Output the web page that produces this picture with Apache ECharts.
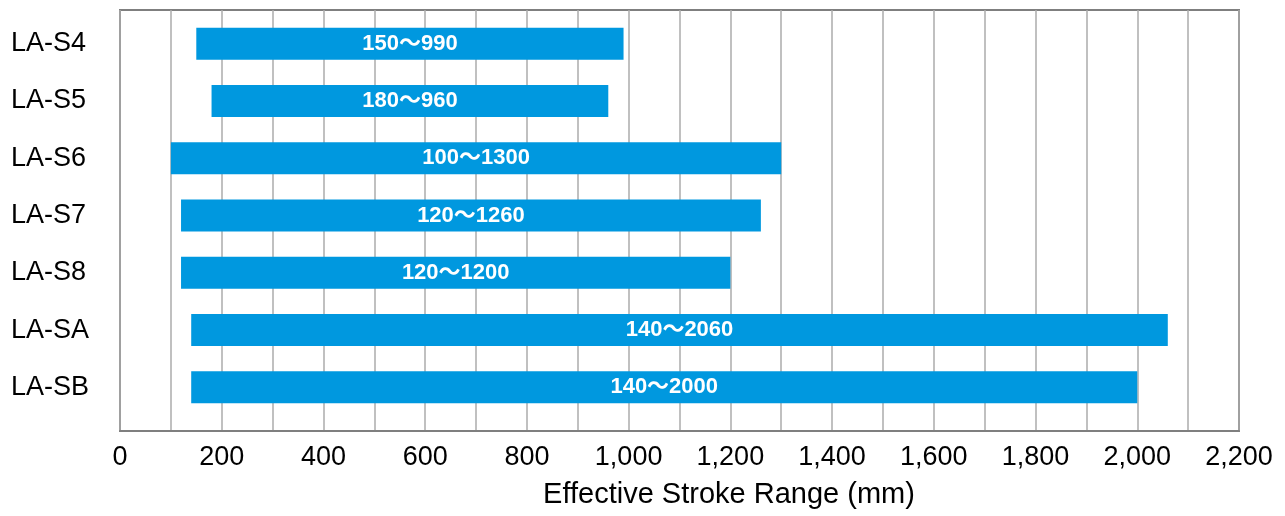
<!DOCTYPE html>
<html>
<head>
<meta charset="utf-8">
<style>
  html, body { margin: 0; padding: 0; background: #ffffff; }
  #chart { width: 1285px; height: 516px; }
</style>
<script src="https://cdn.jsdelivr.net/npm/echarts@6/dist/echarts.min.js"></script>
</head>
<body>
<div id="chart"></div>
<script>
// Actuator models and their effective stroke ranges (mm)
const models = ['LA-S4', 'LA-S5', 'LA-S6', 'LA-S7', 'LA-S8', 'LA-SA', 'LA-SB'];
const strokeMin = [150, 180, 100, 120, 120, 140, 140];
const strokeMax = [990, 960, 1300, 1260, 1200, 2060, 2000];

const xMin = 0;
const xMax = 2200;
const gridStep = 100;   // vertical grid line spacing
const labelStep = 200;  // labelled tick spacing

const barColor = '#0098DF';
const fontFamily = 'Arial, "Liberation Sans", "Noto Sans CJK JP", sans-serif';

// Invisible offset up to each range start, then the visible span on top
const offsets = strokeMin.slice();
const spans = strokeMax.map((v, i) => v - strokeMin[i]);

const formatTick = v => (v % labelStep === 0 ? v.toLocaleString('en-US') : '');

const chart = echarts.init(document.getElementById('chart'), null, { renderer: 'canvas' });

chart.setOption({
  backgroundColor: '#ffffff',
  animation: false,
  grid: [
    // frame, grid lines and the value axis
    { left: 120, right: 46, top: 10, bottom: 85, show: true,
      borderColor: '#7f7f7f', borderWidth: 2, backgroundColor: 'transparent' },
    // category rows holding the bars
    { left: 120, right: 46, top: 15, bottom: 100 }
  ],
  xAxis: [
    {
      gridIndex: 0,
      type: 'value',
      min: xMin,
      max: xMax,
      interval: gridStep,
      axisLine: { show: true, lineStyle: { color: '#7f7f7f', width: 2 } },
      axisTick: { show: false },
      splitLine: { show: true, lineStyle: { color: '#ababab', width: 1.5 } },
      axisLabel: {
        formatter: formatTick,
        color: '#000000',
        fontSize: 27,
        fontFamily: fontFamily,
        margin: 13,
        showMinLabel: true,
        showMaxLabel: true
      },
      name: 'Effective Stroke Range (mm)',
      nameLocation: 'middle',
      nameGap: 49,
      nameTextStyle: {
        color: '#000000',
        fontSize: 29,
        fontFamily: fontFamily,
        padding: [0, 0, 0, 99]
      }
    },
    {
      gridIndex: 1,
      type: 'value',
      min: xMin,
      max: xMax,
      show: false,
      splitLine: { show: false }
    }
  ],
  yAxis: [
    {
      gridIndex: 0,
      type: 'value',
      show: false,
      splitLine: { show: false }
    },
    {
      gridIndex: 1,
      type: 'category',
      data: models,
      inverse: true,
      axisLine: { show: false },
      axisTick: { show: false },
      splitLine: { show: false },
      axisLabel: {
        color: '#000000',
        fontSize: 27,
        fontFamily: fontFamily,
        align: 'left',
        margin: 109
      }
    }
  ],
  series: [
    {
      type: 'bar',
      xAxisIndex: 1,
      yAxisIndex: 1,
      stack: 'range',
      data: offsets,
      barWidth: 32,
      itemStyle: { color: 'transparent' },
      emphasis: { disabled: true },
      silent: true
    },
    {
      type: 'bar',
      xAxisIndex: 1,
      yAxisIndex: 1,
      stack: 'range',
      data: spans,
      barWidth: 32,
      itemStyle: { color: barColor },
      label: {
        show: true,
        position: 'inside',
        color: '#ffffff',
        fontWeight: 'bold',
        fontSize: 22,
        fontFamily: fontFamily,
        formatter: p => strokeMin[p.dataIndex] + '～' + strokeMax[p.dataIndex]
      },
      emphasis: { disabled: true }
    }
  ]
});
</script>
</body>
</html>
